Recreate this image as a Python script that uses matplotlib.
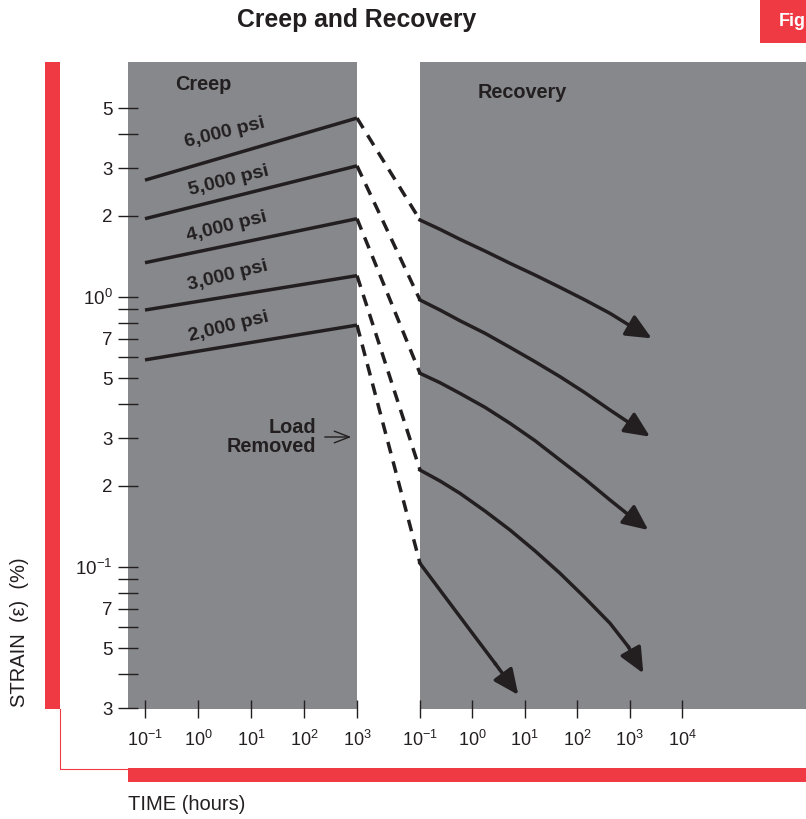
import matplotlib
matplotlib.use('Agg')
import matplotlib.pyplot as plt
from matplotlib.patches import Rectangle, ConnectionPatch, FancyArrowPatch
from matplotlib.lines import Line2D

plt.rcParams['font.family'] = ['Liberation Sans', 'DejaVu Sans']
plt.rcParams['mathtext.fontset'] = 'custom'
plt.rcParams['mathtext.rm'] = 'Liberation Sans'
plt.rcParams['mathtext.bf'] = 'Liberation Sans:bold'

# ---------------- data ----------------
stress_labels = ['6,000 psi', '5,000 psi', '4,000 psi', '3,000 psi', '2,000 psi']
creep_times = [0.1, 1000]
creep_start_strain = [2.71, 1.95, 1.34, 0.895, 0.585]
creep_end_strain = [4.60, 3.06, 1.95, 1.20, 0.787]

recovery_times = [
    [0.1, 0.241, 0.579, 1.74, 5.23, 15.7, 47.0, 141, 423, 1097, 2642],
    [0.1, 0.241, 0.579, 1.74, 5.23, 15.7, 47.0, 141, 423, 1018, 2450],
    [0.1, 0.241, 0.579, 1.74, 5.23, 15.7, 47.0, 141, 423, 1018, 2275],
    [0.1, 0.241, 0.579, 1.74, 5.23, 15.7, 47.0, 141, 423, 944, 1825],
    [0.1, 0.300, 0.90, 2.70, 7.52],
]
recovery_strain = [
    [1.928, 1.781, 1.636, 1.480, 1.333, 1.206, 1.086, 0.975, 0.870, 0.776, 0.703],
    [0.975, 0.895, 0.817, 0.734, 0.651, 0.576, 0.507, 0.442, 0.3815, 0.3405, 0.3039],
    [0.5217, 0.4816, 0.4397, 0.3904, 0.3405, 0.2937, 0.2490, 0.2113, 0.1771, 0.1545, 0.1371],
    [0.2287, 0.2083, 0.1875, 0.1612, 0.1371, 0.1147, 0.0948, 0.0770, 0.0619, 0.0507, 0.0404],
    [0.1032, 0.0776, 0.0584, 0.0440, 0.0336],
]

y_tick_values = [5, 4, 3, 2, 1, 0.9, 0.8, 0.7, 0.6, 0.5, 0.4, 0.3, 0.2,
                 0.1, 0.09, 0.08, 0.07, 0.06, 0.05, 0.04, 0.03]
y_tick_labels = ['5', '', '3', '2', r'$\mathregular{10^0}$', '', '', '7', '', '5', '', '3', '2',
                 r'$\mathregular{10^{-1}}$', '', '', '7', '', '5', '', '3']
creep_xticks = [0.1, 1, 10, 100, 1000]
creep_xlabels = [r'$\mathregular{10^{-1}}$', r'$\mathregular{10^{0}}$', r'$\mathregular{10^{1}}$',
                 r'$\mathregular{10^{2}}$', r'$\mathregular{10^{3}}$']
recovery_xticks = [0.1, 1, 10, 100, 1000, 10000]
recovery_xlabels = creep_xlabels + [r'$\mathregular{10^{4}}$']

# ---------------- style ----------------
W, H = 806, 819
GRAY = '#87888c'
RED = '#ef3a43'
DARK = '#231f20'

def fx(px):
    return px / W

def fy(py):
    return 1 - py / H

fig = plt.figure(figsize=(W / 100, H / 100), dpi=100)

top, bottom = 62, 709
ax1 = fig.add_axes([fx(128), fy(bottom), fx(357) - fx(128), fy(top) - fy(bottom)])
ax2 = fig.add_axes([fx(420), fy(bottom), fx(806) - fx(420), fy(top) - fy(bottom)])

ylim = (0.0298, 7.42)
for ax in (ax1, ax2):
    ax.set_facecolor(GRAY)
    ax.set_xscale('log')
    ax.set_yscale('log')
    ax.set_ylim(*ylim)
    for s in ax.spines.values():
        s.set_visible(False)
    ax.minorticks_off()

ax1.set_xlim(10 ** (-1 - 17 / 53), 1000)
ax2.set_xlim(0.1, 10 ** (-1 + 386 / 52.4))

ax1.set_yticks(y_tick_values, y_tick_labels)
ax1.tick_params(axis='y', direction='inout', length=14.5, width=1.0, color=DARK,
                labelsize=13.5, labelcolor=DARK, pad=4)
ax2.set_yticks([])
ax1.set_xticks(creep_xticks, creep_xlabels)
ax2.set_xticks(recovery_xticks, recovery_xlabels)
for ax in (ax1, ax2):
    ax.tick_params(axis='x', direction='inout', length=12.5, width=1.0, color=DARK,
                   labelsize=13, labelcolor=DARK, pad=9)
    ax.minorticks_off()

LW = 2.5
# creep lines
for s0, s1 in zip(creep_start_strain, creep_end_strain):
    ax1.plot(creep_times, [s0, s1], color=DARK, lw=LW, solid_capstyle='butt', clip_on=False)

# dashed transitions
for s1, rs in zip(creep_end_strain, recovery_strain):
    con = ConnectionPatch(xyA=(creep_times[-1], s1), coordsA=ax1.transData,
                          xyB=(recovery_times[0][0], rs[0]), coordsB=ax2.transData,
                          color=DARK, lw=LW, linestyle=(0, (3.4, 2.4)),
                          capstyle='butt')
    fig.add_artist(con)

# recovery curves with arrow heads
for ts, ss in zip(recovery_times, recovery_strain):
    ax2.plot(ts[:-1], ss[:-1], color=DARK, lw=LW, solid_joinstyle='round', clip_on=False)
    ax2.annotate('', xy=(ts[-1], ss[-1]), xytext=(ts[-2], ss[-2]),
                 arrowprops=dict(arrowstyle='-|>,head_length=1.1,head_width=0.5',
                                 mutation_scale=14, lw=LW, color=DARK,
                                 shrinkA=0, shrinkB=0))

# labels inside panels
fig.text(fx(175), fy(84), 'Creep', fontsize=14.3, fontweight='bold', color=DARK,
         ha='left', va='center')
fig.text(fx(478), fy(92), 'Recovery', fontsize=14.3, fontweight='bold', color=DARK,
         ha='left', va='center')
psi_pos = [(225, 133), (229, 181), (227, 227), (228, 276), (229, 327)]
for lab, (px, py) in zip(stress_labels, psi_pos):
    fig.text(fx(px), fy(py), lab, fontsize=14, fontweight='bold', color=DARK,
             ha='center', va='center', rotation=14, rotation_mode='anchor')

fig.text(fx(316), fy(437), 'Load\nRemoved', fontsize=14.3, fontweight='bold', color=DARK,
         ha='right', va='center', linespacing=1.0)
fig.add_artist(FancyArrowPatch(
    (fx(322), fy(437)), (fx(354), fy(437)), transform=fig.transFigure,
    arrowstyle='->,head_length=0.9,head_width=0.35', mutation_scale=12,
    lw=1.0, color=DARK))

# title and decorations
fig.text(fx(357), fy(20), 'Creep and Recovery', fontsize=17.8, fontweight='bold',
         color=DARK, ha='center', va='center')
fig.add_artist(Rectangle((fx(760), fy(43)), fx(806) - fx(760), fy(0) - fy(43),
                         transform=fig.transFigure, color=RED, lw=0))
fig.text(fx(779), fy(21), 'Fig', fontsize=13, fontweight='bold', color='white',
         ha='left', va='center')

# red bars
fig.add_artist(Rectangle((fx(45), fy(709)), fx(60) - fx(45), fy(62) - fy(709),
                         transform=fig.transFigure, color=RED, lw=0))
fig.add_artist(Rectangle((fx(128), fy(782)), fx(806) - fx(128), fy(768) - fy(782),
                         transform=fig.transFigure, color=RED, lw=0))
fig.add_artist(Line2D([fx(59.5), fx(59.5), fx(128)], [fy(709), fy(768.5), fy(768.5)],
                      transform=fig.transFigure, color=RED, lw=0.8))

fig.text(fx(20), fy(632), 'STRAIN  (ε)  (%)', fontsize=14.5, color=DARK,
         rotation=90, ha='center', va='center')
fig.text(fx(128), fy(805), 'TIME (hours)', fontsize=14.5, color=DARK,
         ha='left', va='center')

fig.savefig('out.png', dpi=100)
